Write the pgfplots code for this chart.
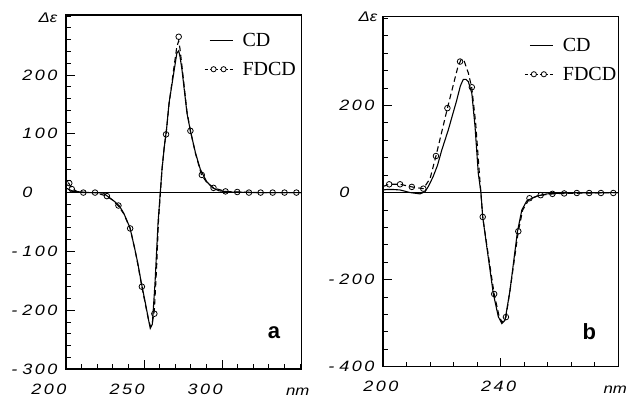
\documentclass[border=0pt]{standalone}
\usepackage{pgfplots}
\pgfplotsset{compat=1.18}
\usepackage{fontspec}
\setmainfont{Liberation Serif}
\newfontfamily\sansf{Liberation Sans}
\newfontfamily\tickf[FakeStretch=1.2]{Liberation Sans}
\newcommand{\tickfont}{\tickf\itshape\fontsize{15}{15}\selectfont}
\newcommand{\legfont}{\rmfamily\fontsize{20}{20}\selectfont}
\newcommand{\ks}{\kern2.5pt}

\tikzset{lab/.style={font=\tickf\itshape\fontsize{14}{14}\selectfont, anchor=center}}
\pgfplotsset{
  myaxis/.style={
    scale only axis,
    clip mode=individual,
    axis line style={line width=1.3pt},
    tick align=inside,
    xtick pos=left, ytick pos=left,
    major tick length=9pt, minor tick length=5pt,
    tick style={black, line width=0.9pt},
    tick label style={font=\tickfont},
    xticklabel style={anchor=north, yshift=-11pt, xshift=-2pt},
    yticklabel style={anchor=east, xshift=-5pt},
    legend style={draw=none, fill=none, font=\legfont, row sep=10pt, inner sep=0pt,
      cells={anchor=west}},
  },
  cdline/.style={black, line width=1.1pt, mark=none,
    legend image code/.code={\path[draw=none, fill=none] (0pt,-3pt) rectangle (36pt,3pt);
      \draw[black, line width=1.1pt, solid] (5pt,0pt) -- (28pt,0pt);}},
  fdline/.style={black, line width=1.1pt, dash pattern=on 5.5pt off 3.5pt, mark=none, forget plot},
  fdmarks/.style={only marks, mark=o, mark size=2.8pt, mark options={fill=white, line width=0.8pt, solid},
    legend image code/.code={\path[draw=none, fill=none] (0pt,-3pt) rectangle (36pt,3pt);
      \draw[black, line width=1pt, dash pattern=on 3pt off 2pt] (0pt,0pt) -- (28pt,0pt);
      \draw[black, fill=white, line width=0.8pt, solid] (9pt,0pt) circle (2.6pt);
      \draw[black, fill=white, line width=0.8pt, solid] (19pt,0pt) circle (2.6pt);}},
}

\begin{document}
\begin{tikzpicture}
\useasboundingbox (0pt,0pt) rectangle (631pt,398pt);

% ---------- panel a ----------
\begin{axis}[myaxis, at={(66pt,29pt)}, anchor=south west,
  width=235.7pt, height=354pt,
  xmin=200, xmax=351, ymin=-300, ymax=302,
  xtick={200,250,300}, xticklabels={2\ks0\ks0,2\ks5\ks0,3\ks0\ks0}, minor xtick={210,220,...,350},
  xticklabel style={xshift=-15pt},
  ytick={-300,-200,...,200},
  yticklabels={-\kern5pt3\ks0\ks0,-\kern5pt2\ks0\ks0,-\kern5pt1\ks0\ks0,0\phantom{\ks0\ks0},1\ks0\ks0,2\ks0\ks0},
  minor ytick={-280,-260,...,300},
  legend style={at={(0.585,0.955)}, anchor=north west}]
\addplot[forget plot, black, line width=0.5pt] coordinates {(200,0) (351,0)};
\addplot[cdline] coordinates {
(200,8) (202,5) (205,2) (210,1) (215,0) (220,0) (224,-1) (228,-9) (231,-15) (234,-22)
(237,-35) (241,-60) (244,-95) (246,-120) (248,-150) (251,-190) (253,-218) (254,-231)
(255.3,-224) (257,-155) (259,-50) (260.4,0) (261.5,39) (263,78) (264.5,110) (266,152)
(269,203) (271,237) (272.2,241) (273,232) (274.3,209) (277.5,135) (279.7,105) (283,67)
(286,40) (290,19) (294,8) (298,3) (305,1) (320,0) (351,0)};
\addlegendentry{CD}
\addplot[fdline] coordinates {
(201.5,17) (203.7,7) (207,2) (211,0) (218.6,0) (226.2,-6) (230,-13) (233.6,-23)
(237,-36) (241.1,-61) (244,-95) (246,-122) (248.6,-160) (251,-192) (253,-218) (254.2,-228)
(255.3,-222) (256.6,-200) (258,-130) (259.3,-45) (260.5,0) (261.5,40) (263,80) (264.1,99)
(266,150) (269,210) (271,248) (272.2,258) (273,245) (274.3,215) (277.5,138) (279.7,105)
(283,66) (286.8,30) (290,18) (294.5,8) (302.2,2) (310,1) (325,0) (351,0)};
\addplot[fdmarks] coordinates {
(202.1,16) (203.7,6) (211.1,0) (218.6,0) (226.2,-6) (233.6,-22) (241.1,-61) (248.6,-160)
(256.6,-206) (264.1,99) (272.2,265) (279.7,105) (287,30) (294.5,8) (302.2,2) (309.7,1)
(317.2,0) (324.7,0) (332.4,0) (340,0) (347.6,0)};
\addlegendentry{FDCD}
\node[lab] at (rel axis cs:0,1) [xshift=-18pt, yshift=-2.5pt] {Δε};
\node[lab] at (rel axis cs:1,0) [xshift=-4pt, yshift=-23pt] {nm};
\node[font=\sansf\bfseries\fontsize{22}{22}\selectfont, anchor=center] at (rel axis cs:1,0) [xshift=-27.7pt, yshift=36pt] {a};
\end{axis}

% ---------- panel b ----------
\begin{axis}[myaxis, at={(383pt,31.3pt)}, anchor=south west,
  width=235.3pt, height=350pt,
  xmin=200, xmax=280, ymin=-400, ymax=404,
  xtick={200,240}, xticklabels={2\ks0\ks0,2\ks4\ks0}, minor xtick={208,216,...,280},
  ytick={-400,-200,0,200},
  yticklabels={-\kern5pt4\ks0\ks0,-\kern5pt2\ks0\ks0,0\phantom{\ks0\ks0},2\ks0\ks0},
  minor ytick={-360,-320,...,400},
  legend style={at={(0.6,0.945)}, anchor=north west}]
\addplot[forget plot, black, line width=0.5pt] coordinates {(200,0) (280,0)};
\addplot[cdline] coordinates {
(200,6) (201.3,7) (203.5,7) (205.8,6) (209.2,0) (212.6,-3) (214.3,2) (215.5,15) (217,36)
(218.5,62) (220,98) (222.2,144) (225.1,213) (226.3,245) (227.3,260) (228.2,260) (229,255) (230.2,228)
(231.3,151) (232.4,44) (233.3,0) (233.9,-56) (235.3,-125) (237.5,-232) (239.2,-285)
(240.4,-301) (241.5,-293) (243.2,-224) (245.7,-90) (247.2,-40) (248.9,-19) (252.3,-8)
(255.7,-3) (262,-1) (280,0)};
\addlegendentry{CD}
\addplot[fdline] coordinates {
(200,14) (202.1,19) (205.8,19) (209.8,13) (213.7,9) (216,32) (218,84) (220,140) (221.9,194)
(224,250) (225.5,290) (226.6,306) (227.6,302) (229,275) (230.2,240) (231.5,160) (232.7,50)
(233.9,-56) (235.5,-130) (237.8,-233) (239.5,-285) (240.5,-298) (241.8,-286) (243.5,-210)
(246,-89) (247.5,-40) (249.8,-14) (253.6,-6) (257.6,-3) (262,-2) (270,-1) (280,0)};
\addplot[fdmarks] coordinates {
(202.1,19) (205.8,19) (209.8,13) (213.7,9) (218,84) (221.9,194) (226.2,301) (230.2,242)
(233.9,-56) (237.8,-233) (241.8,-286) (246,-89) (249.8,-13) (253.6,-6) (257.6,-3)
(261.6,-2) (265.9,-1) (270.1,-1) (274.1,-1) (278.3,-1)};
\addlegendentry{FDCD}
\node[lab] at (rel axis cs:0,1) [xshift=-15pt, yshift=-0.5pt] {Δε};
\node[lab] at (rel axis cs:1,0) [xshift=-3pt, yshift=-23pt] {nm};
\node[font=\sansf\bfseries\fontsize{22}{22}\selectfont, anchor=center] at (rel axis cs:1,0) [xshift=-29pt, yshift=35pt] {b};
\end{axis}
\end{tikzpicture}
\end{document}
